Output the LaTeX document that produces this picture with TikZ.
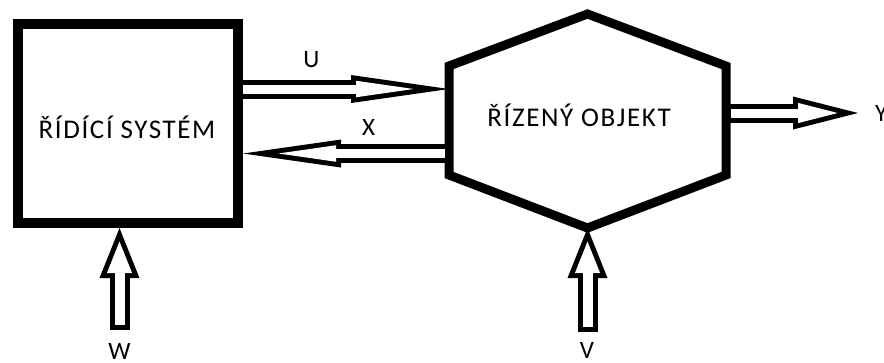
\documentclass[tikz,border=0pt]{standalone}
\usepackage{fontspec}
\setmainfont{Carlito}[LetterSpace=6]
\usetikzlibrary{arrows.meta}

\begin{document}
\begin{tikzpicture}[x=1pt, y=-1pt,
    every node/.style={font=\fontsize{27}{32}\selectfont},
    blok/.style={rectangle, draw, line width=10pt, minimum width=220pt, minimum height=199pt},
    obrys/.style={draw, line width=9pt, line join=miter},
    znacka/.style={inner sep=0pt, font=\fontsize{25}{30}\selectfont},
    % hollow arrows: black outline, white inside, #1 closes the free end
    hollowlong/.style={draw, line width=19pt, -{Triangle[length=98pt, width=28pt, line width=0pt]},
        postaction={draw=white, line width=9pt, shorten <=#1, shorten >=35.4pt,
            -{Triangle[length=57.6pt, width=16.5pt, line width=0pt]}}},
    hollowlong/.default=0pt,
    hollowmid/.style={draw, line width=19pt, -{Triangle[length=65pt, width=33pt, line width=0pt]},
        postaction={draw=white, line width=9pt, shorten <=#1, shorten >=20.3pt,
            -{Triangle[length=39.7pt, width=20.2pt, line width=0pt]}}},
    hollowmid/.default=0pt,
    hollowshort/.style={draw, line width=20pt, -{Triangle[length=50pt, width=40pt, line width=0pt]},
        postaction={draw=white, line width=10pt, shorten <=#1, shorten >=13.5pt,
            -{Triangle[length=31.5pt, width=25.2pt, line width=0pt]}}},
    hollowshort/.default=0pt
]
\useasboundingbox (0,0) rectangle (884,362);

% Blocks
\node[blok] (ridici) at (128,123.5) {};
\node[anchor=base] (ridicitext) at (127,138) {ŘÍDÍCÍ SYSTÉM};
\draw[obrys] (587.5,14) coordinate (hexN) -- (726,66) coordinate (hexNE) -- (726,175) coordinate (hexSE)
    -- (587.5,228) coordinate (hexS) -- (449,175) coordinate (hexSW) -- (449,66) coordinate (hexNW) -- cycle;
\node[anchor=base] (objekt) at (579,126) {ŘÍZENÝ OBJEKT};

% Free ends
\coordinate (wstart) at (119.5,330);
\coordinate (vstart) at (587.5,332);
\coordinate (yend) at (858,113);

% Signals
\draw[hollowlong] (ridici.east |- 0,89) -- (hexNW |- 0,89);
\draw[hollowlong=4.5pt] (hexNW |- 0,153.5) -- (ridici.east |- 0,153.5);
\draw[hollowmid=4.5pt] (hexNE |- yend) -- (yend);
\draw[hollowshort=5pt] (vstart) -- (hexS);
\draw[hollowshort=5pt] (wstart) -- (wstart |- ridici.south);

% Labels
\node[znacka, anchor=base] (ulbl) at (311.5,67) {U};
\node[znacka, anchor=base] (xlbl) at (368.5,135) {X};
\node[znacka, anchor=base west] (ylbl) at (875,121) {Y};
\node[znacka, anchor=base] (vlbl) at (587,358) {V};
\node[znacka, anchor=base] (wlbl) at (119.5,359) {W};

\end{tikzpicture}
\end{document}
